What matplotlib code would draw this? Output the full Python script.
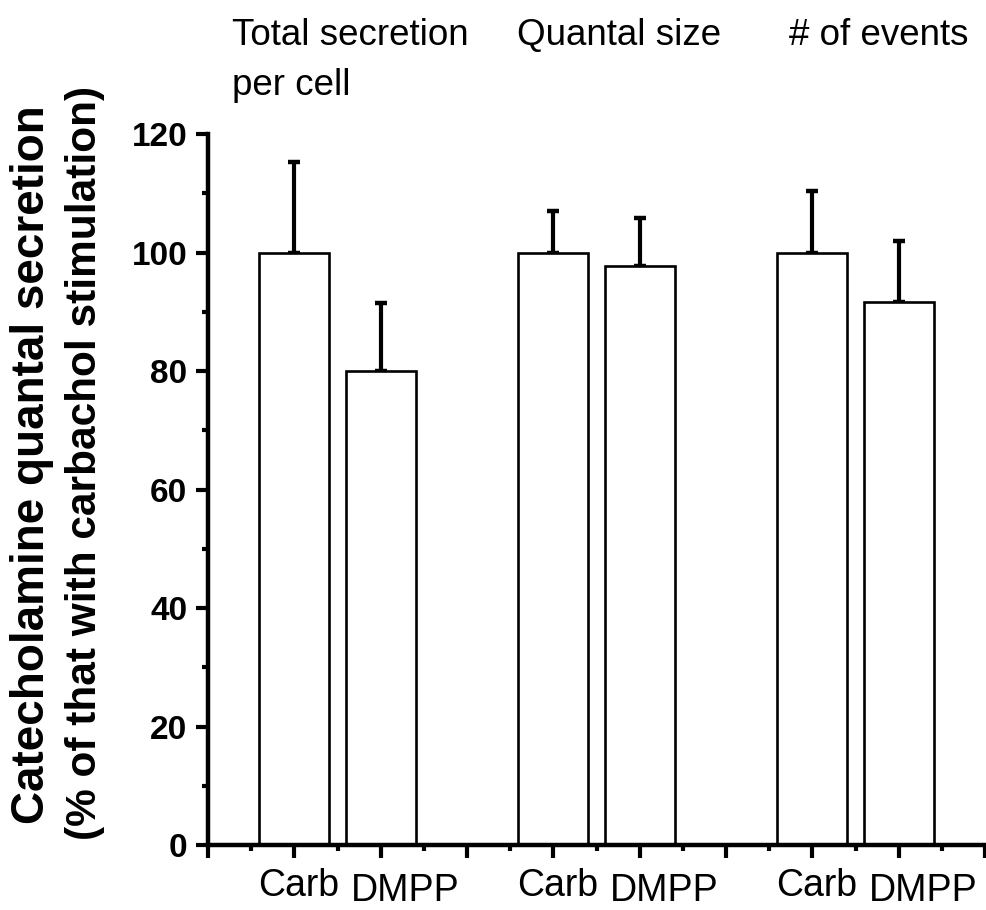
import matplotlib
matplotlib.use('Agg')
import matplotlib.pyplot as plt
from matplotlib import font_manager

# data: mean (% of carbachol) and upper error for each bar
groups = ['Total secretion', 'Quantal size', '# of events']
conditions = ['Carb', 'DMPP']
means = [100, 80.0, 100, 97.7, 100, 91.6]
errors = [15.3, 11.5, 7.0, 8.1, 10.4, 10.3]
bar_x = [1, 2, 4, 5, 7, 8]

names = {f.name for f in font_manager.fontManager.ttflist}
narrow = 'Liberation Sans Narrow' if 'Liberation Sans Narrow' in names else 'Liberation Sans'
wide = 'Liberation Sans'

fig = plt.figure(figsize=(9.86, 9.10), dpi=100)
ax = fig.add_axes([0.211, 0.0714, 0.788, 0.7813])

ax.bar(bar_x, means, width=0.81, color='white', edgecolor='black', linewidth=1.9, zorder=2)
ax.errorbar(bar_x, means, yerr=[[0] * len(errors), errors], fmt='none', ecolor='black',
            elinewidth=3.0, capsize=4.5, capthick=3.2, zorder=1)

ax.set_xlim(0, 9)
ax.set_ylim(0, 120)

for side in ['top', 'right']:
    ax.spines[side].set_visible(False)
for side in ['left', 'bottom']:
    ax.spines[side].set_linewidth(3.2)

ax.set_yticks(range(0, 121, 20))
ax.set_yticks(range(10, 120, 20), minor=True)
ax.set_xticks(range(0, 10))
ax.set_xticks([i + 0.5 for i in range(9)], minor=True)
ax.set_xticklabels([])
ax.tick_params(axis='both', which='major', length=9, width=3.0, direction='out')
ax.tick_params(axis='both', which='minor', length=4, width=3.0, direction='out')
ax.tick_params(axis='y', pad=6)
for lab in ax.get_yticklabels():
    lab.set_fontfamily(narrow)
    lab.set_fontweight('bold')
    lab.set_fontsize(24)

# condition labels under each bar, DMPP sits a bit lower
for i, x in enumerate(bar_x):
    cond = conditions[i % 2]
    dx = 0.05 if cond == 'Carb' else 0.28
    dy = -37 if cond == 'Carb' else -40
    ax.annotate(cond, xy=(x + dx, 0), xycoords=('data', 'axes fraction'),
                xytext=(0, dy), textcoords='offset points', ha='center', va='baseline',
                fontsize=27, family=narrow, annotation_clip=False)

# group titles across the top
fig.text(232 / 986, 1 - 45 / 910, groups[0], fontsize=26.5, family=narrow, va='baseline')
fig.text(232 / 986, 1 - 95 / 910, 'per cell', fontsize=26.5, family=narrow, va='baseline')
fig.text(517 / 986, 1 - 45 / 910, groups[1], fontsize=26.5, family=narrow, va='baseline')
fig.text(789 / 986, 1 - 45 / 910, groups[2], fontsize=26.5, family=narrow, va='baseline')

fig.text(32 / 986, 1 - 465 / 910, 'Catecholamine quantal secretion', rotation=90,
         fontsize=33, fontweight='bold', family=wide, ha='center', va='center')
fig.text(85 / 986, 1 - 463 / 910, '(% of that with carbachol stimulation)', rotation=90,
         fontsize=30.5, fontweight='bold', family=wide, ha='center', va='center')

fig.savefig('out.png', dpi=100)
